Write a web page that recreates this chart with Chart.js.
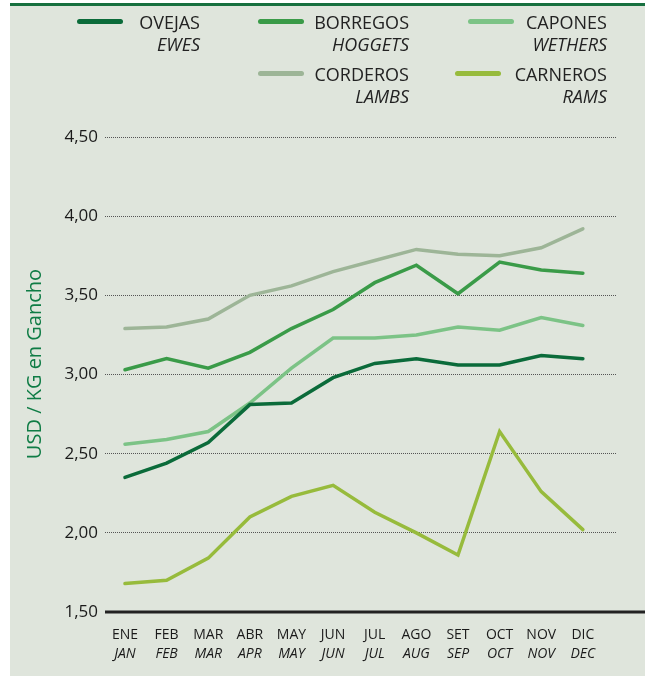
<!DOCTYPE html>
<html>
<head>
<meta charset="utf-8">
<script src="https://cdn.jsdelivr.net/npm/chart.js@4.4.0/dist/chart.umd.min.js"></script>
<style>
  html, body { margin: 0; padding: 0; background: #fff; }
  body { width: 645px; height: 676px; position: relative; overflow: hidden; font-family: "Open Sans", sans-serif; }
  .panel { position: absolute; left: 10px; top: 3px; width: 635px; height: 673px; background: #dfe5dc; border-top: 3px solid #17703f; box-sizing: border-box; }
  #grafico { position: absolute; left: 0; top: 0; }
  .leyenda__item { position: absolute; color: #222; text-align: right; }
  .leyenda__linea { position: absolute; left: 0; top: 15px; width: 46px; height: 5px; border-radius: 2.5px; }
  .leyenda__es { font-size: 18px; line-height: 22px; margin-top: 7px; }
  .leyenda__en { font-size: 18px; line-height: 22px; font-style: italic; }
</style>
</head>
<body>
<div class="panel"></div>
<canvas id="grafico" width="645" height="676"></canvas>
<div id="leyenda"></div>
<script>
const meses = ['ENE', 'FEB', 'MAR', 'ABR', 'MAY', 'JUN', 'JUL', 'AGO', 'SET', 'OCT', 'NOV', 'DIC'];
const months = ['JAN', 'FEB', 'MAR', 'APR', 'MAY', 'JUN', 'JUL', 'AUG', 'SEP', 'OCT', 'NOV', 'DEC'];

const ovejas   = [2.35, 2.44, 2.57, 2.81, 2.82, 2.98, 3.07, 3.10, 3.06, 3.06, 3.12, 3.10];
const borregos = [3.03, 3.10, 3.04, 3.14, 3.29, 3.41, 3.58, 3.69, 3.51, 3.71, 3.66, 3.64];
const capones  = [2.56, 2.59, 2.64, 2.82, 3.04, 3.23, 3.23, 3.25, 3.30, 3.28, 3.36, 3.31];
const corderos = [3.29, 3.30, 3.35, 3.50, 3.56, 3.65, 3.72, 3.79, 3.76, 3.75, 3.80, 3.92];
const carneros = [1.68, 1.70, 1.84, 2.10, 2.23, 2.30, 2.13, 2.00, 1.86, 2.64, 2.26, 2.02];

const nombresEs = ['OVEJAS', 'BORREGOS', 'CAPONES', 'CORDEROS', 'CARNEROS'];
const nombresEn = ['EWES', 'HOGGETS', 'WETHERS', 'LAMBS', 'RAMS'];
const yTicks = [1.5, 2.0, 2.5, 3.0, 3.5, 4.0, 4.5];

const colores = ['#0b6b3a', '#3a9b48', '#7cc386', '#9db597', '#97bb3c'];
const series = [ovejas, borregos, capones, corderos, carneros];
// posiciones de la leyenda (izquierda, arriba, ancho)
const posLeyenda = [[77, 4, 123], [258, 4, 151], [468, 4, 139], [258, 56, 151], [455, 56, 152]];

const leyenda = document.getElementById('leyenda');
nombresEs.forEach((nombre, i) => {
  const [l, t, w] = posLeyenda[i];
  const item = document.createElement('div');
  item.className = 'leyenda__item';
  item.style.left = l + 'px';
  item.style.top = t + 'px';
  item.style.width = w + 'px';
  const linea = document.createElement('span');
  linea.className = 'leyenda__linea';
  linea.style.background = colores[i];
  const es = document.createElement('div');
  es.className = 'leyenda__es';
  es.textContent = nombre;
  const en = document.createElement('div');
  en.className = 'leyenda__en';
  en.textContent = nombresEn[i];
  item.appendChild(linea);
  item.appendChild(es);
  item.appendChild(en);
  leyenda.appendChild(item);
});

const extras = {
  id: 'extras',
  afterDraw(chart) {
    const { ctx, chartArea, scales } = chart;
    const x = scales.x, y = scales.y;
    ctx.save();
    // linea base
    const yBase = y.getPixelForValue(1.5);
    ctx.strokeStyle = '#222';
    ctx.lineWidth = 3;
    ctx.beginPath();
    ctx.moveTo(chartArea.left, yBase);
    ctx.lineTo(chart.width, yBase);
    ctx.stroke();
    // meses
    ctx.fillStyle = '#1a1a1a';
    ctx.textAlign = 'center';
    ctx.textBaseline = 'middle';
    meses.forEach((m, i) => {
      const px = x.getPixelForValue(i);
      ctx.font = '14px "Open Sans"';
      ctx.fillText(m, px, 635);
      ctx.font = 'italic 14px "Open Sans"';
      ctx.fillText(months[i], px, 654);
    });
    // titulo eje y
    ctx.translate(35, 364);
    ctx.rotate(-Math.PI / 2);
    ctx.fillStyle = '#0f7c45';
    ctx.font = '500 20px "Open Sans"';
    ctx.fillText('USD / KG en Gancho', 0, 0);
    ctx.restore();
  }
};

new Chart(document.getElementById('grafico').getContext('2d'), {
  type: 'line',
  data: {
    datasets: series.map((s, i) => ({
      label: nombresEs[i],
      data: s.map((v, j) => ({ x: j, y: v })),
      borderColor: colores[i],
      borderWidth: 3.5,
      pointRadius: 0,
      tension: 0,
      borderCapStyle: 'round',
      borderJoinStyle: 'miter'
    }))
  },
  options: {
    responsive: false,
    animation: false,
    layout: { padding: { left: 0, top: 137, right: 28, bottom: 0 } },
    plugins: { legend: { display: false }, tooltip: { enabled: false } },
    scales: {
      x: {
        type: 'linear',
        min: -0.48,
        max: 11.82,
        ticks: { display: false },
        grid: { display: false },
        border: { display: false },
        afterFit: s => { s.height = 64; }
      },
      y: {
        min: 1.5,
        max: 4.5,
        afterBuildTicks: s => { s.ticks = yTicks.map(v => ({ value: v })); },
        ticks: {
          padding: 7,
          color: '#1a1a1a',
          font: { family: 'Open Sans', size: 17 },
          callback: v => v.toFixed(2).replace('.', ',')
        },
        grid: {
          drawTicks: false,
          color: c => (c.tick && c.tick.value === 1.5 ? 'rgba(0,0,0,0)' : '#555'),
          lineWidth: 1
        },
        border: { display: false, dash: [1, 1] },
        afterFit: s => { s.width = 105; }
      }
    }
  },
  plugins: [extras]
});
</script>
</body>
</html>
